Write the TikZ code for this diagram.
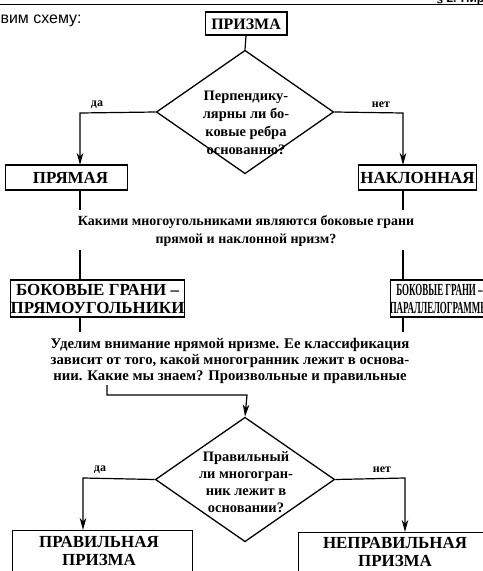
\documentclass[tikz,border=0pt]{standalone}
\usepackage{fontspec}
\setmainfont{Liberation Serif}
\newfontfamily\sansf{Liberation Sans}
\usetikzlibrary{arrows.meta,shapes.geometric}
\begin{document}
\begin{tikzpicture}[x=1bp,y=-1bp,
  line width=1.2bp,
  boxnode/.style={draw, line width=1.3bp, inner sep=0pt, rectangle},
  boxtext/.style={inner sep=0pt, align=center, font=\fontsize{17}{18.5}\selectfont\bfseries},
  body/.style={inner sep=0pt, align=center, font=\fontsize{14}{17.5}\selectfont\bfseries},
  ylab/.style={inner sep=0pt, font=\fontsize{12}{14}\selectfont\bfseries},
  dia/.style={draw, diamond, inner sep=0pt, line width=1.3bp},
  diatext/.style={inner sep=0pt, align=center, font=\fontsize{14.5}{18}\selectfont\bfseries},
  arr/.style={-{Stealth[length=12bp,width=6.5bp,inset=3.5bp]}}
]
\useasboundingbox (0,0) rectangle (483,571);
% page fragments
\coordinate (r1) at (0,4.5);
\coordinate (r2) at (483,4.5);
\draw[line width=1.6bp] (r1) -- (r2);
\node[anchor=base west, inner sep=0pt, font=\sansf\bfseries\fontsize{12}{14}\selectfont] (hdr) at (436,3) {§ 2. Пир};
\node[anchor=west, inner sep=0pt, font=\sansf\fontsize{16}{18}\selectfont] (intro) at (0,21) {вим схему:};

% top
\node[boxnode, minimum width=82, minimum height=23] (prism) at (246,23.5) {};
\node[boxtext, font=\fontsize{16}{18}\selectfont\bfseries] (prismt) at (246,24) {ПРИЗМА};
\node[dia, minimum width=178, minimum height=124] (d1) at (245,112) {};
\node[diatext] (d1t) at (246,123) {Перпендику-\\лярны ли бо-\\ковые ребра\\основанню?};
\draw (prism.south) -- (d1.north);

\node[boxnode, minimum width=123, minimum height=25] (pr) at (66.5,177.5) {};
\node[boxtext] (prt) at (70.5,178) {ПРЯМАЯ};
\node[boxnode, minimum width=119, minimum height=25] (nk) at (417.5,177.5) {};
\node[boxtext] (nkt) at (417.5,178) {НАКЛОННАЯ};

\coordinate (c1l) at (80,113);
\coordinate (c1r) at (403,113);
\draw[arr] (d1.west) -- (c1l) -- (80,165);
\draw[arr] (d1.east) -- (c1r) -- (403,165);
\node[ylab] (da1) at (97,105) {да};
\node[ylab] (net1) at (381,105) {нет};

\node[body] (q1) at (246,231) {Какими многоугольниками являются боковые грани\\прямой и наклонной нризм?};
\coordinate (q1l) at (80,210);
\coordinate (q1r) at (403,210);
\draw (80,190) -- (q1l);
\draw (403,190) -- (q1r);

\node[boxnode, minimum width=175, minimum height=37] (bg1) at (97.5,298.5) {};
\node[boxtext] (bg1t) at (97.5,299) {БОКОВЫЕ ГРАНИ –\\ПРЯМОУГОЛЬНИКИ};
\node[boxnode, minimum width=110, minimum height=37] (bg2) at (445,298.5) {};
\node[boxtext] (bg2t) at (439.5,299) {\scalebox{0.53}[1]{БОКОВЫЕ ГРАНИ –}\\\scalebox{0.53}[1]{ПАРАЛЛЕЛОГРАММЫ}};
\coordinate (q1bl) at (80,250);
\coordinate (q1br) at (403,250);
\draw (q1bl) -- (80,280);
\draw (q1br) -- (403,280);

\coordinate (b1d) at (80,332);
\coordinate (b2d) at (403,332);
\draw (80,317) -- (b1d);
\draw (403,317) -- (b2d);

\node[body, font=\fontsize{14.8}{16.5}\selectfont\bfseries] (q2) at (230,361) {Уделим внимание нрямой нризме. Ее классификация\\зависит от того, какой многогранник лежит в основа-\\нии. Какие мы знаем? Произвольные и правильные};

\node[dia, minimum width=180, minimum height=125] (d2) at (245,479.5) {};
\node[diatext, font=\fontsize{14.5}{17}\selectfont\bfseries] (d2t) at (246,482) {Правильный\\ли многогран-\\ник лежит в\\основании?};
\coordinate (q2a) at (107,385);
\coordinate (q2b) at (107,395);
\coordinate (q2c) at (247,395);
\draw[arr] (q2a) -- (q2b) -- (q2c) -- (d2.north);

\coordinate (c2l) at (83,478);
\coordinate (c2r) at (405,478);
\draw[arr] (d2.west) -- (c2l) -- (83,530);
\draw[arr] (d2.east) -- (c2r) -- (405,532);
\node[ylab] (da2) at (100,470) {да};
\node[ylab] (net2) at (382,470) {нет};

\node[boxnode, minimum width=181, minimum height=50, anchor=north] (pp) at (102.5,530) {};
\node[boxtext] (ppt) at (99,551) {ПРАВИЛЬНАЯ\\ПРИЗМА};
\node[boxnode, minimum width=192, minimum height=50, anchor=north] (np) at (394,532) {};
\node[boxtext] (npt) at (395,552) {НЕПРАВИЛЬНАЯ\\ПРИЗМА};
\end{tikzpicture}
\end{document}
